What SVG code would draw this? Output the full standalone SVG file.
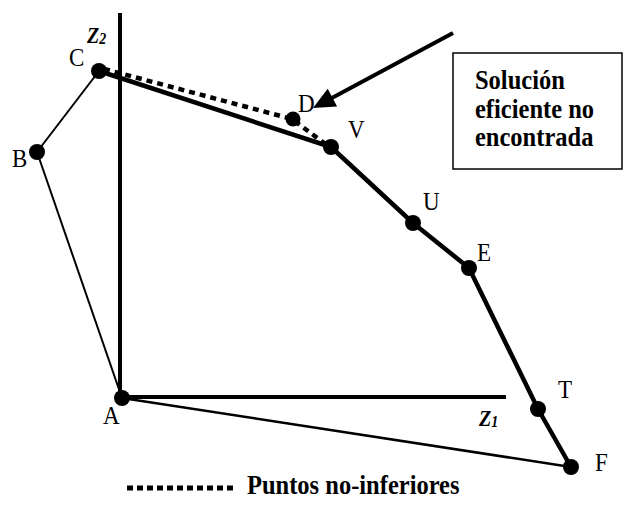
<svg xmlns="http://www.w3.org/2000/svg" width="625" height="519" viewBox="0 0 625 519">
<style>
text{font-family:"Liberation Serif","Times New Roman",Times,serif;fill:#000}
.lbl{font-size:23px}
.z{font-weight:bold;font-style:italic;font-size:20px}
.zs{font-size:14px}
.bold{font-weight:bold;font-size:24.5px}
.dot{fill:#000}
.thin{stroke:#000;stroke-width:2;fill:none}
.thick{stroke:#000;stroke-width:4.5;fill:none;stroke-linejoin:round}
.axis{stroke:#000;stroke-width:4;fill:none}
.dash{stroke:#000;stroke-width:4.5;fill:none;stroke-dasharray:6 5}
</style>
<rect width="625" height="519" fill="#fff"/>
<g id="axes">
<line class="axis" x1="120" y1="13" x2="120" y2="399"/>
<line class="axis" x1="120" y1="397" x2="506" y2="397"/>
<text class="z" transform="translate(87,43) scale(1,1.12)">Z<tspan class="zs" dy="1">2</tspan></text>
<text class="z" transform="translate(479,426) scale(1,1.12)">Z<tspan class="zs" dy="1">1</tspan></text>
</g>
<g id="connectors">
<line class="thin" x1="99" y1="71" x2="37" y2="152"/>
<line class="thin" x1="37" y1="152" x2="122" y2="398"/>
<line class="thin" style="stroke-width:2.5" x1="122" y1="398" x2="571" y2="467"/>
<polyline class="thick" points="99,71 331,147 413,223 469,268 538,409 571,467"/>
<polyline class="dash" points="104,69 292,119 328,146"/>
<line stroke="#000" stroke-width="4" x1="453" y1="33" x2="330" y2="99"/>
<polygon points="313,108 327.7,88.8 337.1,106.4" fill="#000"/>
</g>
<g id="node-A"><circle class="dot" cx="122" cy="398" r="8"/><text class="lbl" transform="translate(103,424) scale(1,1.13)">A</text></g>
<g id="node-B"><circle class="dot" cx="37" cy="152" r="8"/><text class="lbl" transform="translate(12,167) scale(1,1.13)">B</text></g>
<g id="node-C"><circle class="dot" cx="99" cy="71" r="8"/><text class="lbl" transform="translate(69,66) scale(1,1.13)">C</text></g>
<g id="node-D"><circle class="dot" cx="293" cy="119" r="7.5"/><text class="lbl" transform="translate(298,112) scale(1,1.13)">D</text></g>
<g id="node-V"><circle class="dot" cx="331" cy="147" r="8"/><text class="lbl" transform="translate(348,138) scale(1,1.13)">V</text></g>
<g id="node-U"><circle class="dot" cx="413" cy="223" r="8"/><text class="lbl" transform="translate(423,210) scale(1,1.13)">U</text></g>
<g id="node-E"><circle class="dot" cx="469" cy="268" r="8"/><text class="lbl" transform="translate(477,261) scale(1,1.13)">E</text></g>
<g id="node-T"><circle class="dot" cx="538" cy="409" r="8"/><text class="lbl" transform="translate(558,398) scale(1,1.13)">T</text></g>
<g id="node-F"><circle class="dot" cx="571" cy="467" r="8"/><text class="lbl" transform="translate(595,471) scale(1,1.13)">F</text></g>
<g id="note">
<rect x="453" y="53" width="169" height="116" fill="none" stroke="#000" stroke-width="1.5"/>
<text class="bold" transform="translate(475,89) scale(1,1.1)">Solución</text>
<text class="bold" transform="translate(475,118) scale(1,1.1)">eficiente no</text>
<text class="bold" transform="translate(475,146) scale(1,1.1)">encontrada</text>
</g>
<g id="legend">
<line stroke="#000" stroke-width="5" stroke-dasharray="6 4" x1="127" y1="488" x2="233" y2="488"/>
<text class="bold" transform="translate(247,494) scale(1,1.1)">Puntos no-inferiores</text>
</g>
</svg>
